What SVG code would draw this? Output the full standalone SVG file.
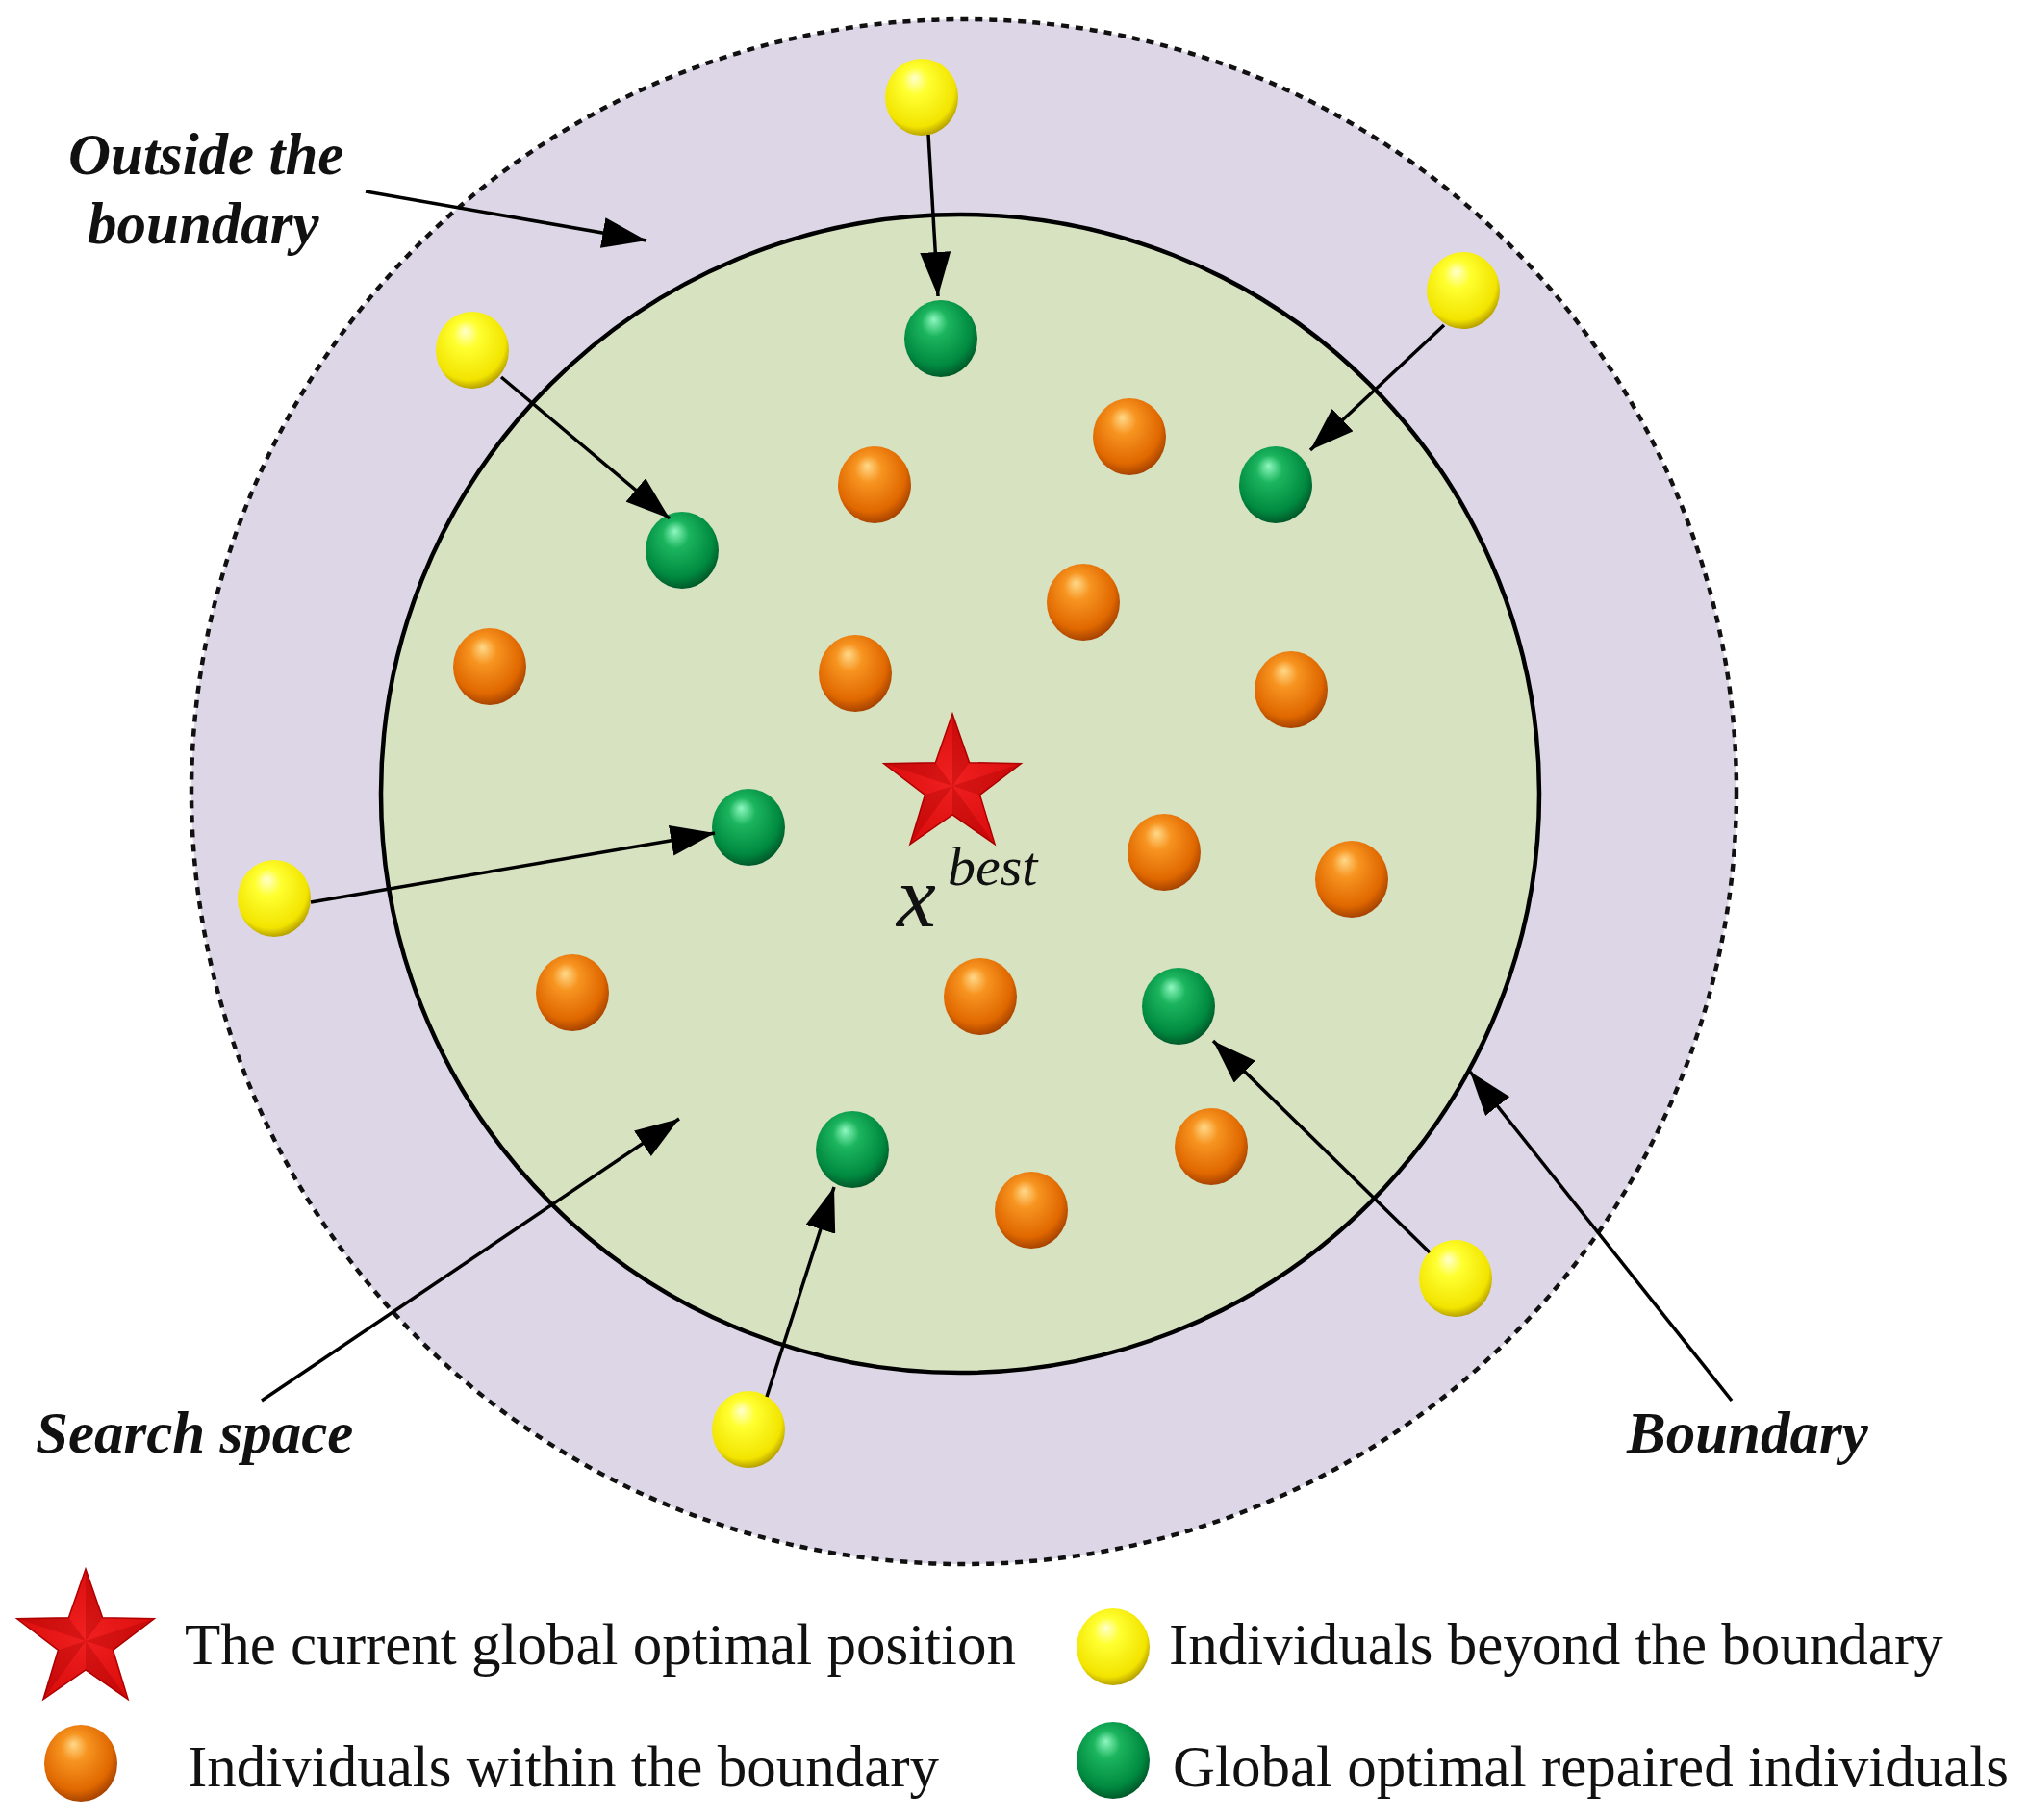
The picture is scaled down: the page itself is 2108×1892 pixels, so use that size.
<svg xmlns="http://www.w3.org/2000/svg" width="2108" height="1892" viewBox="0 0 2108 1892">
<defs>
<style>
.lbl{font-family:"Liberation Serif","Times New Roman",serif;font-weight:bold;font-style:italic;font-size:61px;fill:#111}
.leg{font-family:"Liberation Serif","Times New Roman",serif;font-size:61px;fill:#111}
.mth{font-family:"Liberation Serif","Times New Roman",serif;font-style:italic;fill:#111}
.con{stroke:#000;stroke-width:3.5;fill:none;marker-end:url(#ah)}
</style>
<radialGradient id="gO" cx="0.45" cy="0.4" r="0.6" fx="0.4" fy="0.25">
<stop offset="0" stop-color="#ffd98a"/><stop offset="0.3" stop-color="#f79420"/><stop offset="0.8" stop-color="#e06800"/><stop offset="1" stop-color="#a84400"/>
</radialGradient>
<radialGradient id="gG" cx="0.45" cy="0.4" r="0.6" fx="0.4" fy="0.25">
<stop offset="0" stop-color="#8ff8c0"/><stop offset="0.3" stop-color="#1cb55e"/><stop offset="0.8" stop-color="#008a40"/><stop offset="1" stop-color="#005a2a"/>
</radialGradient>
<radialGradient id="gY" cx="0.45" cy="0.4" r="0.6" fx="0.4" fy="0.25">
<stop offset="0" stop-color="#ffffd0"/><stop offset="0.3" stop-color="#ffff30"/><stop offset="0.85" stop-color="#f2e400"/><stop offset="1" stop-color="#b8a200"/>
</radialGradient>
<radialGradient id="gS" cx="0.5" cy="0.5" r="0.6">
<stop offset="0" stop-color="#f02020"/><stop offset="1" stop-color="#d80a0a"/>
</radialGradient>
<marker id="ah" viewBox="0 0 46 32" refX="46" refY="16" markerWidth="46" markerHeight="32" markerUnits="userSpaceOnUse" orient="auto">
<path d="M0,0 L46,16 L0,32 Z" fill="#000"/>
</marker>
<ellipse id="sph" cx="0" cy="0" rx="38" ry="40"/>
<g id="star">
<path d="M0,-75 L17.6,-24.3 L71.3,-23.2 L28.5,9.3 L44.1,60.7 L0,30 L-44.1,60.7 L-28.5,9.3 L-71.3,-23.2 L-17.6,-24.3 Z" fill="url(#gS)" stroke="#b00000" stroke-width="1.5"/>
<path d="M0,0 L0,-75 L17.6,-24.3 Z M0,0 L71.3,-23.2 L28.5,9.3 Z M0,0 L44.1,60.7 L0,30 Z M0,0 L-44.1,60.7 L-28.5,9.3 Z M0,0 L-71.3,-23.2 L-17.6,-24.3 Z" fill="#a00000" opacity="0.3"/>
</g>
</defs>
<rect width="2108" height="1892" fill="#fff"/>
<g id="outside-region">
<circle cx="1002" cy="823" r="803" fill="#dcd6e6" stroke="#111" stroke-width="4.5" stroke-dasharray="8,7"/>
</g>
<g id="search-space">
<circle cx="998" cy="825" r="602" fill="#d6e2c0" stroke="#000" stroke-width="4.5"/>
</g>
<g id="labels">
<text class="lbl" x="71" y="181">Outside the</text>
<text class="lbl" x="91" y="253">boundary</text>
<text class="lbl" x="37" y="1510">Search space</text>
<text class="lbl" x="1691" y="1510">Boundary</text>
</g>
<g id="xbest">
<use href="#star" x="990" y="817"/>
<text class="mth" x="932" y="963" font-size="92">x</text>
<text class="mth" x="985" y="920" font-size="58">best</text>
</g>
<g id="orange-individuals" fill="url(#gO)">
<use id="o1" href="#sph" x="1174" y="454"/>
<use id="o2" href="#sph" x="909" y="504"/>
<use id="o3" href="#sph" x="1126" y="626"/>
<use id="o4" href="#sph" x="509" y="693"/>
<use id="o5" href="#sph" x="889" y="700"/>
<use id="o6" href="#sph" x="1342" y="717"/>
<use id="o7" href="#sph" x="1210" y="886"/>
<use id="o8" href="#sph" x="1405" y="914"/>
<use id="o9" href="#sph" x="595" y="1032"/>
<use id="o10" href="#sph" x="1019" y="1036"/>
<use id="o11" href="#sph" x="1259" y="1192"/>
<use id="o12" href="#sph" x="1072" y="1258"/>
</g>
<g id="green-individuals" fill="url(#gG)">
<use id="g1" href="#sph" x="978" y="352"/>
<use id="g2" href="#sph" x="1326" y="504"/>
<use id="g3" href="#sph" x="709" y="572"/>
<use id="g4" href="#sph" x="778" y="860"/>
<use id="g5" href="#sph" x="1225" y="1046"/>
<use id="g6" href="#sph" x="886" y="1195"/>
</g>
<g id="yellow-individuals" fill="url(#gY)">
<use id="y1" href="#sph" x="958" y="101"/>
<use id="y2" href="#sph" x="1521" y="302"/>
<use id="y3" href="#sph" x="491" y="364"/>
<use id="y4" href="#sph" x="285" y="934"/>
<use id="y5" href="#sph" x="1513" y="1329"/>
<use id="y6" href="#sph" x="778" y="1486"/>
</g>
<g id="connectors">
<line class="con" x1="965" y1="140" x2="975" y2="308"/>
<line class="con" x1="1501" y1="338" x2="1362" y2="468"/>
<line class="con" x1="521" y1="392" x2="696" y2="539"/>
<line class="con" x1="323" y1="938" x2="743" y2="866"/>
<line class="con" x1="1486" y1="1302" x2="1261" y2="1082"/>
<line class="con" x1="797" y1="1452" x2="867" y2="1234"/>
<line class="con" x1="380" y1="199" x2="672" y2="250"/>
<line class="con" x1="272" y1="1456" x2="706" y2="1163"/>
<line class="con" x1="1800" y1="1456" x2="1528" y2="1114"/>
</g>
<g id="legend">
<g id="legend-star"><use href="#star" x="89" y="1706"/><text class="leg" x="192" y="1730">The current global optimal position</text></g>
<g id="legend-orange"><use href="#sph" x="84" y="1833" fill="url(#gO)"/><text class="leg" x="195" y="1857">Individuals within the boundary</text></g>
<g id="legend-yellow"><use href="#sph" x="1157" y="1712" fill="url(#gY)"/><text class="leg" x="1215" y="1730">Individuals beyond the boundary</text></g>
<g id="legend-green"><use href="#sph" x="1157" y="1830" fill="url(#gG)"/><text class="leg" x="1219" y="1857">Global optimal repaired individuals</text></g>
</g>
</svg>
